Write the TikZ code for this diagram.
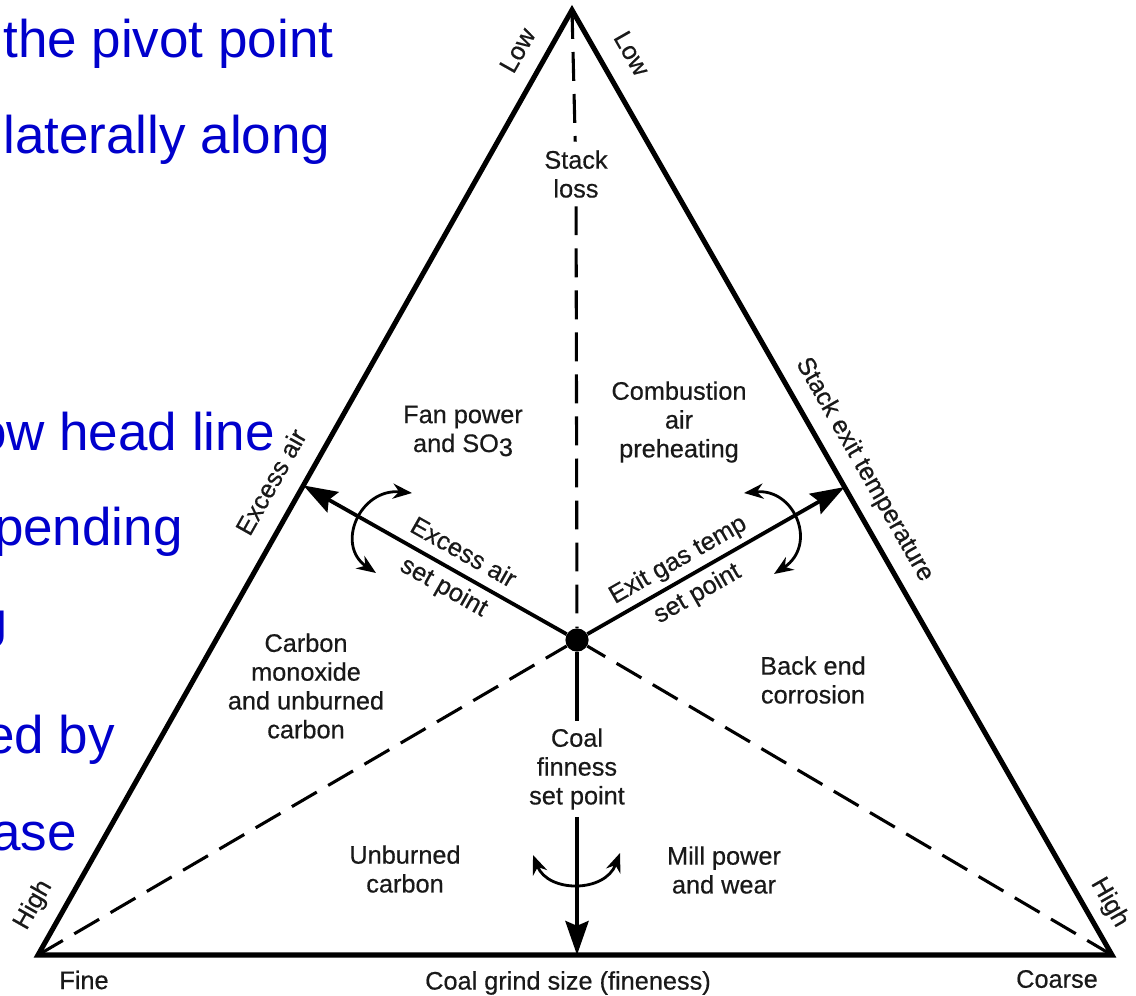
\documentclass[tikz,border=0pt]{standalone}
\usepackage{fontspec}
\setmainfont{Liberation Sans}
\newfontfamily\figfont{Liberation Sans}[FakeBold=0.5]
\usepackage{tikz}
\usetikzlibrary{arrows.meta, calc, positioning}
\definecolor{slideblue}{RGB}{0,0,204}

\begin{document}
\begin{tikzpicture}[
  x=0.025cm, y=-0.025cm,
  rim/.style={line width=3.6pt, line join=miter},
  guide/.style={line width=2.2pt, dash pattern=on 0.72cm off 0.33cm},
  setarrow/.style={line width=2.7pt, -{Stealth[length=0.85cm,width=0.58cm,inset=0.12cm]}},
  swing/.style={line width=2pt,
                {Stealth[length=0.48cm,width=0.38cm]}-{Stealth[length=0.48cm,width=0.38cm]}},
  region/.style={font=\figfont\fontsize{18}{20.5}\selectfont, text=black!90,
                 align=center, inner sep=1pt},
  rimlabel/.style={font=\figfont\fontsize{18}{20.5}\selectfont, text=black!90,
                   sloped, inner sep=0pt, text depth=0pt},
  slidetext/.style={font=\fontsize{37.7}{45}\selectfont, text=slideblue, inner sep=0pt}
]
  \useasboundingbox (0,0) rectangle (1136,995);
  \clip (0,0) rectangle (1136,995);

  % slide text cut off at the left
  \node[slidetext, anchor=base west] (t1) at (3,57)   {the pivot point};
  \node[slidetext, anchor=base west] (t2) at (3,153)  {laterally along};
  \node[slidetext, anchor=base east] (t3) at (275,450) {ow head line};
  \node[slidetext, anchor=base east] (t4) at (183,545) {pending};
  \node[slidetext, anchor=base east] (t5) at (8,647)   {J};
  \node[slidetext, anchor=base east] (t6) at (115,753) {ed by};
  \node[slidetext, anchor=base east] (t7) at (77,850)  {ase};

  % triangle
  \coordinate (apex)      at (572,10);
  \coordinate (fineend)   at (38,955);
  \coordinate (coarseend) at (1112,955);
  \node[circle, fill, inner sep=0pt, minimum size=0.58cm] (pivot) at (577,640) {};

  \coordinate (eafoot) at ($(fineend)!(pivot.center)!(apex)$);
  \coordinate (egfoot) at ($(apex)!(pivot.center)!(coarseend)$);
  \coordinate (cgfoot) at ($(fineend)!(pivot.center)!(coarseend)$);

  \draw[rim] (apex) -- (fineend) -- (coarseend) -- cycle;

  % regions
  \node[region, inner sep=6pt] (loss) at (576,174) {Stack\\loss};
  \node[region] (fan)  at (463,431) {Fan power\\and SO\raisebox{-0.3ex}{3}};
  \node[region] (air)  at (679,422) {Combustion\\air\\preheating};
  \node[region] (co)   at (306,686) {Carbon\\monoxide\\and unburned\\carbon};
  \node[region] (corr) at (813,680) {Back end\\corrosion};
  \node[region, inner sep=5pt] (coal) at (577,769) {Coal\\finness\\set point};
  \node[region] (unb)  at (405,869) {Unburned\\carbon};
  \node[region] (mill) at (724,870) {Mill power\\and wear};

  % dashed dividers
  \draw[guide] (apex) -- (loss);
  \draw[guide] (loss) -- (pivot);
  \draw[guide] (fineend) -- (pivot);
  \draw[guide] (coarseend) -- (pivot);

  % set point arrows
  \draw[setarrow] (pivot) -- (eafoot);
  \draw[setarrow] (pivot) -- (egfoot);
  \draw[line width=2.7pt] (pivot) -- (coal);
  \draw[setarrow] (coal) -- (cgfoot);

  \path (eafoot) -- (pivot)
    node[rimlabel, pos=0.57, above=0.3cm] {Excess air}
    node[rimlabel, pos=0.57, below=0.2cm] {set point};
  \path (pivot) -- (egfoot)
    node[rimlabel, pos=0.39, above=0.3cm] {Exit gas temp}
    node[rimlabel, pos=0.39, below=0.2cm] {set point};

  % swing arrows
  \draw[swing] (412,493) .. controls (360,488) and (335,545) .. (376,573);
  \draw[swing] (744,493) .. controls (795,488) and (818,545) .. (774,574);
  \draw[swing] (533,855) .. controls (548,893) and (605,893) .. (620,853);

  % side labels
  \path (fineend) -- (apex)
    node[rimlabel, pos=0.943, above=0.47cm] {Low}
    node[rimlabel, pos=0.485, above=0.52cm] {Excess air}
    node[rimlabel, pos=0.038, above=0.54cm] {High};
  \path (apex) -- (coarseend)
    node[rimlabel, pos=0.062, above=0.54cm] {Low}
    node[rimlabel, pos=0.50, above=0.47cm] {Stack exit temperature}
    node[rimlabel, pos=0.957, above=0.42cm] {High};

  \node[region] (finelbl)   at (84,980)   {Fine};
  \node[region] (grindlbl)  at (568,983)  {Coal grind size (fineness)};
  \node[region] (coarselbl) at (1057,979) {Coarse};
\end{tikzpicture}
\end{document}
